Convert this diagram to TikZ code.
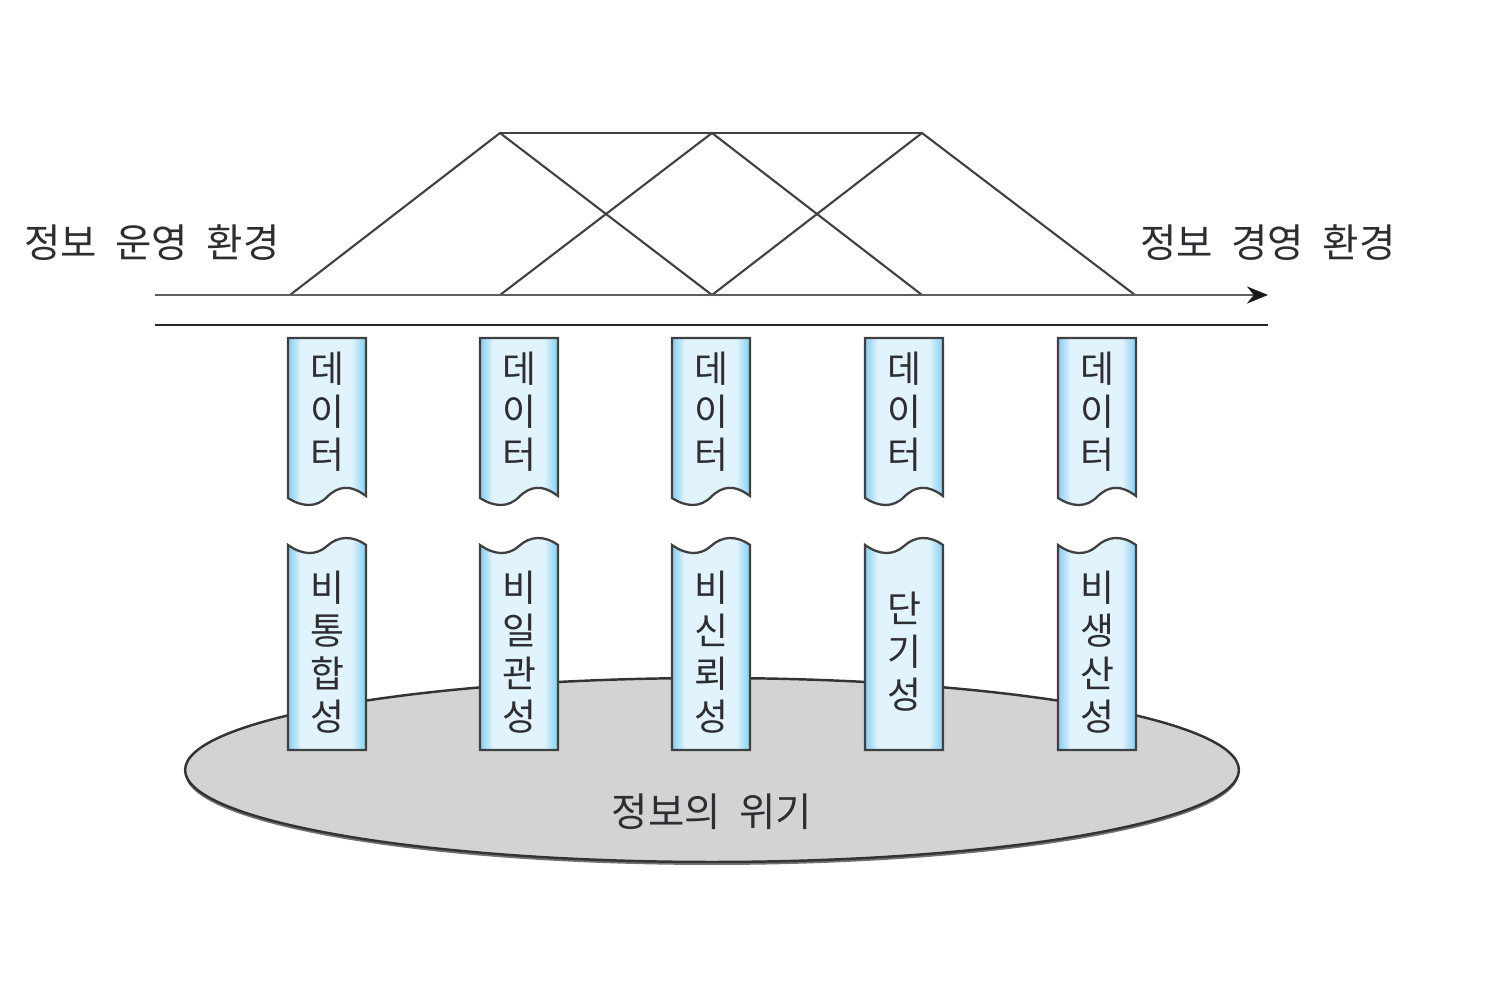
\documentclass[tikz,border=0pt]{standalone}
\usepackage{fontspec}
\setmainfont[WordSpace=2.1]{Noto Sans CJK KR}
\usepackage{tikz}
\usetikzlibrary{arrows.meta}
\definecolor{gristexto}{RGB}{45,45,50}
\definecolor{grislinea}{RGB}{65,65,65}
\definecolor{grisfondo}{RGB}{210,211,213}
\definecolor{celeste}{RGB}{135,205,242}
\definecolor{celestito}{RGB}{225,243,252}
\pgfdeclarehorizontalshading{columnas}{100bp}{color(0bp)=(celeste); color(25bp)=(celeste);
    color(33bp)=(celestito); color(66bp)=(celestito); color(75bp)=(celeste); color(100bp)=(celeste)}
\tikzstyle{flecha} = [line width=1.6pt, draw=grislinea!85,
                      -{Stealth[length=0.42cm, width=0.34cm, color=black!90]}]
\tikzstyle{linea} = [line width=1.6pt, draw=black!85]
\tikzstyle{armadura} = [line width=1.2pt, draw=grislinea]
\tikzstyle{columna} = [line width=1.3pt,
                       draw=black!75,
                       shading=columnas]
\tikzstyle{rotulo} = [text=gristexto, inner sep=0pt, font=\fontsize{22.5}{26}\selectfont]
\tikzstyle{vertical} = [text=gristexto,
                        align=center,
                        inner sep=0pt,
                        font=\fontsize{21}{24.5}\selectfont]
\tikzstyle{fondo} = [line width=1.4pt, draw=black!80, fill=grisfondo]

\begin{document}
\begin{tikzpicture}[x=0.02cm, y=-0.02cm]
        \useasboundingbox (0,0) rectangle (1505,1000);

        % base
        \fill[black!55] (712,773) ellipse [x radius=10.54cm, y radius=1.84cm];
        \draw[fondo] (712,770) ellipse [x radius=10.54cm, y radius=1.84cm];
        \node (Crisis) [rotulo] at (712,812) {정보의 위기};

        % armadura
        \coordinate (B1) at (290,295);
        \coordinate (B2) at (500,295);
        \coordinate (B3) at (712,295);
        \coordinate (B4) at (922,295);
        \coordinate (B5) at (1135,295);
        \coordinate (T1) at (500,133);
        \coordinate (T2) at (712,133);
        \coordinate (T3) at (922,133);
        \draw[armadura] (B1) -- (T1) -- (B3) -- (T3) -- (B5);
        \draw[armadura] (B2) -- (T2) -- (B4);
        \draw[armadura] (T1) -- (T3);

        \coordinate (Inicio) at (155,295);
        \coordinate (Fin) at (1268,295);
        \coordinate (Izq) at (155,325);
        \coordinate (Der) at (1268,325);
        \draw[flecha] (Inicio) -- (Fin);
        \draw[linea] (Izq) -- (Der);

        \node (Operacion) [rotulo] at (152,243) {정보 운영 환경};
        \node (Gestion) [rotulo] at (1268,243) {정보 경영 환경};

        % columnas
        \foreach \x in {288,480,672,865,1058} {
            \draw[columna] (\x,338) -- ({\x+78},338) -- ({\x+78},496)
                .. controls ({\x+62},484) and ({\x+50},486) .. ({\x+39},497)
                .. controls ({\x+28},508) and ({\x+14},507) .. (\x,498) -- cycle;
            \draw[columna] (\x,545)
                .. controls ({\x+14},555) and ({\x+28},556) .. ({\x+39},546)
                .. controls ({\x+50},536) and ({\x+64},535) .. ({\x+78},545)
                -- ({\x+78},750) -- (\x,750) -- cycle;
        }

        \node (Datos1) [vertical] at (327,412) {데\\이\\터};
        \node (Datos2) [vertical] at (519,412) {데\\이\\터};
        \node (Datos3) [vertical] at (711,412) {데\\이\\터};
        \node (Datos4) [vertical] at (904,412) {데\\이\\터};
        \node (Datos5) [vertical] at (1097,412) {데\\이\\터};

        \node (Integracion) [vertical] at (327,652) {비\\통\\합\\성};
        \node (Coherencia) [vertical] at (519,652) {비\\일\\관\\성};
        \node (Confianza) [vertical] at (711,652) {비\\신\\뢰\\성};
        \node (Plazo) [vertical] at (904,652) {단\\기\\성};
        \node (Productividad) [vertical] at (1097,652) {비\\생\\산\\성};
    \end{tikzpicture}
\end{document}
